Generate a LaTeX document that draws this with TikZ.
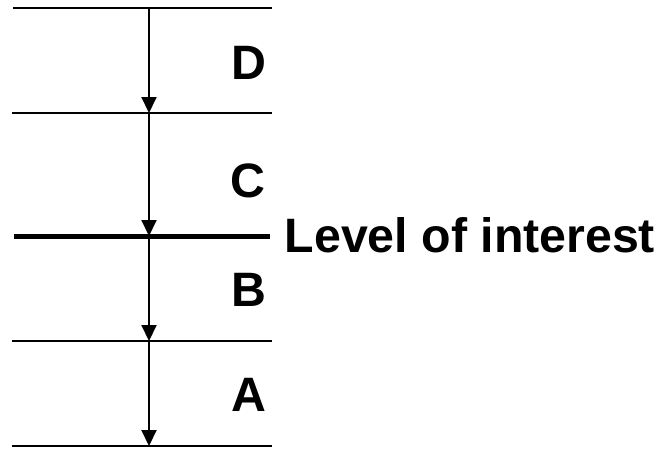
\documentclass[tikz,border=0pt]{standalone}
\usepackage{fontspec}
\setmainfont{Liberation Sans}
\usetikzlibrary{arrows.meta}
\begin{document}
\begin{tikzpicture}[x=1pt,y=-1pt,
  thinline/.style={line width=1.5pt},
  thickline/.style={line width=5pt},
  flow/.style={line width=2pt,-{Triangle[width=15pt,length=16pt]}},
  lbl/.style={font=\fontsize{48.3}{50}\selectfont\bfseries,inner sep=0pt,anchor=base}]
\useasboundingbox (0,0) rectangle (658,455);
% levels
\coordinate (l0) at (149,8);
\coordinate (l1) at (149,113);
\coordinate (l2) at (149,236);
\coordinate (l3) at (149,341);
\coordinate (l4) at (149,446);
\draw[thinline] (13,8) -- (272,8);
\draw[thinline] (12,113) -- (272,113);
\draw[thickline] (14,236) -- (270,236);
\draw[thinline] (12,341) -- (272,341);
\draw[thinline] (12,446) -- (272,446);
% arrows
\draw[flow] (l0) -- (l1);
\draw[flow] (l1) -- (l2);
\draw[flow] (l2) -- (l3);
\draw[flow] (l3) -- (l4);
% labels
\node[lbl] (D) at (249,79) {D};
\node[lbl] (C) at (248,197) {C};
\node[lbl] (B) at (249,306) {B};
\node[lbl] (A) at (249,411) {A};
\node[lbl,anchor=base west] (L) at (284.5,252) {Level of interest};
\end{tikzpicture}
\end{document}
